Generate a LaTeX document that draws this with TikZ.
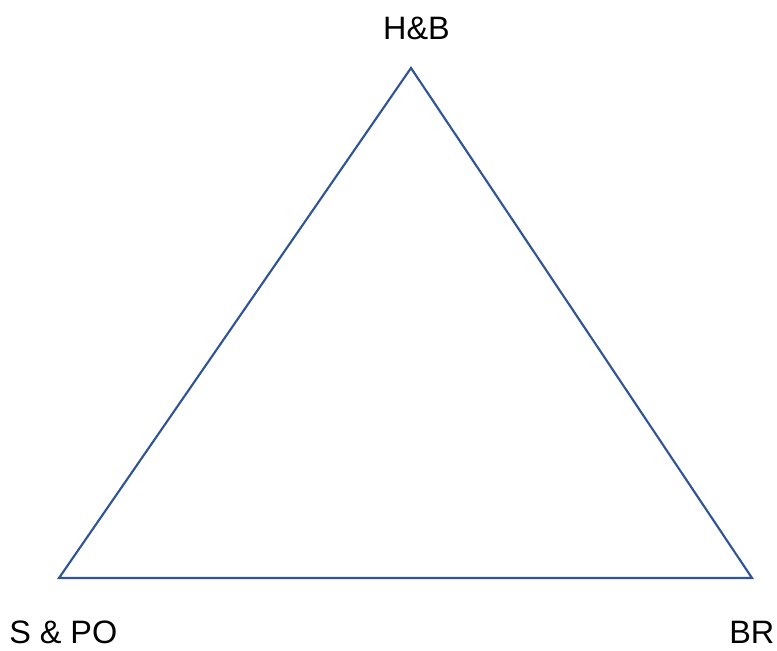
\documentclass[tikz,border=0pt]{standalone}
\usepackage{fontspec}
\setmainfont{Liberation Sans}
\definecolor{edgeblue}{HTML}{2F5597}
\begin{document}
\begin{tikzpicture}[x=0.75pt,y=-0.75pt,
  lbl/.style={inner sep=0pt,font=\fontsize{24.3pt}{29pt}\selectfont},
  edge/.style={draw=edgeblue,line width=1.6pt,line join=miter}]
\useasboundingbox (0,0) rectangle (777,650);
\coordinate (T) at (411,68);
\coordinate (L) at (59,578);
\coordinate (R) at (752,578);
\draw[edge] (T) -- (R) -- (L) -- cycle;
\node[lbl,anchor=base] (hb) at (416.5,39) {H\&B};
\node[lbl,anchor=base west] (spo) at (9,643) {S \& PO};
\node[lbl,anchor=base west] (br) at (729,643) {BR};
\end{tikzpicture}
\end{document}
